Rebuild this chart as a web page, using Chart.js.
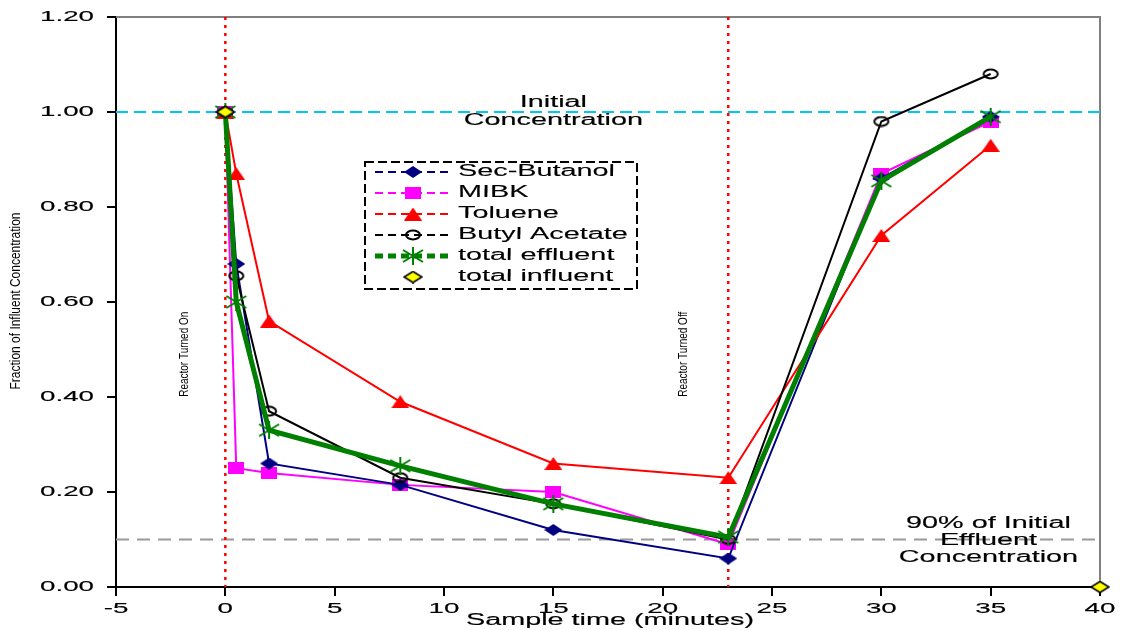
<!DOCTYPE html>
<html>
<head>
<meta charset="utf-8">
<script src="https://cdn.jsdelivr.net/npm/chart.js@4"></script>
<style>
  html, body { margin: 0; padding: 0; background: #fff; }
  #wrap { width: 1125px; height: 630px; }
</style>
</head>
<body>
<div id="wrap"><canvas id="chart" width="1125" height="630"></canvas></div>
<script>
// --- data ---
const sampleTimes   = [0, 0.5, 2, 8, 15, 23, 30, 35];
const secButanol    = [1.00, 0.68, 0.26, 0.215, 0.12, 0.06, 0.86, 0.99];
const mibk          = [1.00, 0.25, 0.24, 0.215, 0.20, 0.09, 0.87, 0.98];
const toluene       = [1.00, 0.87, 0.56, 0.39, 0.26, 0.23, 0.74, 0.93];
const butylAcetate  = [1.00, 0.655, 0.37, 0.23, 0.175, 0.10, 0.98, 1.08];
const totalEffluent = [1.00, 0.60, 0.33, 0.255, 0.175, 0.105, 0.855, 0.99];
const influentTimes = [0, 40];
const totalInfluent = [1.00, 0.00];

const xTicks = [-5, 0, 5, 10, 15, 20, 25, 30, 35, 40];
const yTicks = [0, 0.2, 0.4, 0.6, 0.8, 1.0, 1.2];

const reactorOnAt = 0;
const reactorOffAt = 23;
const initialLevel = 1.0;
const ninetyPctLevel = 0.1;

const FONT = "'Liberation Sans', Arial, sans-serif";

// --- marker images (the original markers are wider than tall) ---
function marker(w, h, draw) {
    const c = document.createElement('canvas');
    c.width = w; c.height = h;
    draw(c.getContext('2d'), w, h);
    return c;
}
const mkDiamond = marker(18, 12, (g, w, h) => {
    g.fillStyle = '#000080';
    g.beginPath(); g.moveTo(w / 2, 0); g.lineTo(w, h / 2); g.lineTo(w / 2, h); g.lineTo(0, h / 2); g.closePath(); g.fill();
});
const mkSquare = marker(16, 12, (g, w, h) => { g.fillStyle = '#ff00ff'; g.fillRect(0, 0, w, h); });
const mkTriangle = marker(18, 13, (g, w, h) => {
    g.fillStyle = '#ff0000';
    g.beginPath(); g.moveTo(w / 2, 0); g.lineTo(w, h); g.lineTo(0, h); g.closePath(); g.fill();
});
const mkCircle = marker(18, 12, (g, w, h) => {
    g.strokeStyle = '#000'; g.lineWidth = 2;
    g.beginPath(); g.ellipse(w / 2, h / 2, 7, 4.5, 0, 0, Math.PI * 2); g.stroke();
});
const mkStar = marker(24, 18, (g, w, h) => {
    g.strokeStyle = '#008000'; g.lineWidth = 2;
    g.beginPath();
    g.moveTo(2, 3); g.lineTo(w - 2, h - 3);
    g.moveTo(w - 2, 3); g.lineTo(2, h - 3);
    g.moveTo(w / 2, 0); g.lineTo(w / 2, h);
    g.stroke();
});
const mkYellow = marker(20, 13, (g, w, h) => {
    g.fillStyle = '#ffff00'; g.strokeStyle = '#000'; g.lineWidth = 1.5;
    g.beginPath(); g.moveTo(w / 2, 1); g.lineTo(w - 1, h / 2); g.lineTo(w / 2, h - 1); g.lineTo(1, h / 2); g.closePath();
    g.fill(); g.stroke();
});

function pts(xs, ys) { return xs.map((x, i) => ({ x: x, y: ys[i] })); }

function series(label, ys, color, width, img, order) {
    return {
        label: label,
        data: pts(sampleTimes, ys),
        borderColor: color,
        backgroundColor: color,
        borderWidth: width,
        pointStyle: img,
        pointRadius: 7,
        showLine: true,
        tension: 0,
        order: order
    };
}

const datasets = [
    series('Sec-Butanol', secButanol, '#000080', 2, mkDiamond, 4),
    series('MIBK', mibk, '#ff00ff', 2, mkSquare, 5),
    series('Toluene', toluene, '#ff0000', 2, mkTriangle, 3),
    series('Butyl Acetate', butylAcetate, '#000000', 2, mkCircle, 2),
    series('total effluent', totalEffluent, '#008000', 5, mkStar, 1),
    {
        label: 'total influent',
        data: pts(influentTimes, totalInfluent),
        pointStyle: mkYellow,
        pointRadius: 7,
        showLine: false,
        clip: false,
        order: 0
    }
];

// --- helpers for the stretched text ---
function stretchedText(ctx, text, x, y, size, sx, align) {
    ctx.save();
    ctx.font = size + 'px ' + FONT;
    ctx.fillStyle = '#000';
    ctx.strokeStyle = '#000';
    ctx.lineWidth = 0.15;
    ctx.textAlign = align || 'center';
    ctx.textBaseline = 'middle';
    ctx.translate(x, y);
    ctx.scale(sx, 1);
    ctx.fillText(text, 0, 0);
    ctx.strokeText(text, 0, 0);
    ctx.restore();
}

function verticalText(ctx, text, x, y, size, length) {
    ctx.save();
    ctx.font = size + 'px ' + FONT;
    ctx.fillStyle = '#000';
    ctx.textAlign = 'center';
    ctx.textBaseline = 'middle';
    const w = ctx.measureText(text).width;
    ctx.translate(x, y);
    ctx.rotate(-Math.PI / 2);
    ctx.scale(length / w, 1);
    ctx.fillText(text, 0, 0);
    ctx.restore();
}

const overlay = {
    id: 'overlay',
    beforeDatasetsDraw(chart) {
        const { ctx, chartArea: a, scales: { x, y } } = chart;
        ctx.save();
        // grey frame top / right
        ctx.strokeStyle = '#808080';
        ctx.lineWidth = 2;
        ctx.beginPath();
        ctx.moveTo(a.left, a.top); ctx.lineTo(a.right, a.top); ctx.lineTo(a.right, a.bottom);
        ctx.stroke();

        // initial concentration line
        ctx.strokeStyle = '#00c8f0';
        ctx.setLineDash([12, 6]);
        ctx.beginPath();
        ctx.moveTo(a.left, y.getPixelForValue(initialLevel)); ctx.lineTo(a.right, y.getPixelForValue(initialLevel));
        ctx.stroke();

        // 90% line
        ctx.strokeStyle = '#999999';
        ctx.setLineDash([13, 8]);
        ctx.beginPath();
        ctx.moveTo(a.left, y.getPixelForValue(ninetyPctLevel)); ctx.lineTo(a.right, y.getPixelForValue(ninetyPctLevel));
        ctx.stroke();

        // reactor on/off
        ctx.strokeStyle = '#ff0000';
        ctx.lineWidth = 2.5;
        ctx.setLineDash([3, 5]);
        [reactorOnAt, reactorOffAt].forEach(t => {
            const px = x.getPixelForValue(t);
            ctx.beginPath(); ctx.moveTo(px, a.top); ctx.lineTo(px, a.bottom); ctx.stroke();
        });
        ctx.restore();

        // notes
        stretchedText(ctx, 'Initial', x.getPixelForValue(15), y.getPixelForValue(1.019), 16, 1.8);
        stretchedText(ctx, 'Concentration', x.getPixelForValue(15), y.getPixelForValue(0.981), 16, 1.8);
        stretchedText(ctx, '90% of Initial', x.getPixelForValue(34.9), y.getPixelForValue(0.133), 16, 1.8);
        stretchedText(ctx, 'Effluent', x.getPixelForValue(34.9), y.getPixelForValue(0.097), 16, 1.8);
        stretchedText(ctx, 'Concentration', x.getPixelForValue(34.9), y.getPixelForValue(0.061), 16, 1.8);
        verticalText(ctx, 'Reactor Turned On', x.getPixelForValue(reactorOnAt - 1.85), y.getPixelForValue(0.49), 12, 85);
        verticalText(ctx, 'Reactor Turned Off', x.getPixelForValue(reactorOffAt - 2.05), y.getPixelForValue(0.49), 12, 85);
    },
    afterDraw(chart) {
        const { ctx, chartArea: a, scales: { x, y } } = chart;
        // tick labels
        yTicks.forEach(v => stretchedText(ctx, v.toFixed(2), 94, y.getPixelForValue(v), 15, 1.85, 'right'));
        xTicks.forEach(v => stretchedText(ctx, String(v), x.getPixelForValue(v), 609, 15, 1.85));
        // axis titles
        stretchedText(ctx, 'Sample time (minutes)', (a.left + a.right) / 2 + 2, 621, 16, 1.8);
        verticalText(ctx, 'Fraction of Influent Concentration', 16, 301, 15, 177);

        // legend
        const bx = 365, by = 162, bw = 272, bh = 127;
        ctx.save();
        ctx.fillStyle = '#fff';
        ctx.fillRect(bx, by, bw, bh);
        ctx.strokeStyle = '#000';
        ctx.lineWidth = 2;
        ctx.setLineDash([9, 4]);
        ctx.strokeRect(bx, by, bw, bh);
        chart.data.datasets.forEach((ds, i) => {
            const ry = by + 10 + i * 21;
            if (ds.showLine) {
                ctx.strokeStyle = ds.borderColor;
                ctx.lineWidth = ds.borderWidth;
                ctx.setLineDash([8, 5]);
                ctx.beginPath(); ctx.moveTo(375, ry); ctx.lineTo(450, ry); ctx.stroke();
            }
            const img = ds.pointStyle;
            ctx.drawImage(img, 413 - img.width / 2, ry - img.height / 2);
            stretchedText(ctx, ds.label, 458, ry, 16, 1.8, 'left');
        });
        ctx.restore();
    }
};

new Chart(document.getElementById('chart'), {
    type: 'scatter',
    data: { datasets: datasets },
    plugins: [overlay],
    options: {
        responsive: false,
        animation: false,
        layout: { padding: { left: 107, right: 25, top: 17, bottom: 34 } },
        plugins: { legend: { display: false }, tooltip: { enabled: false } },
        scales: {
            x: {
                type: 'linear', min: -5, max: 40,
                afterBuildTicks: s => { s.ticks = xTicks.map(v => ({ value: v })); },
                ticks: { display: false },
                grid: { drawOnChartArea: false, drawTicks: true, tickLength: 9, color: '#000', lineWidth: 2 },
                border: { display: true, color: '#000', width: 2 }
            },
            y: {
                type: 'linear', min: 0, max: 1.2,
                afterBuildTicks: s => { s.ticks = yTicks.map(v => ({ value: v })); },
                ticks: { display: false },
                grid: { drawOnChartArea: false, drawTicks: true, tickLength: 9, color: '#000', lineWidth: 2 },
                border: { display: true, color: '#000', width: 2 }
            }
        }
    }
});
</script>
</body>
</html>
